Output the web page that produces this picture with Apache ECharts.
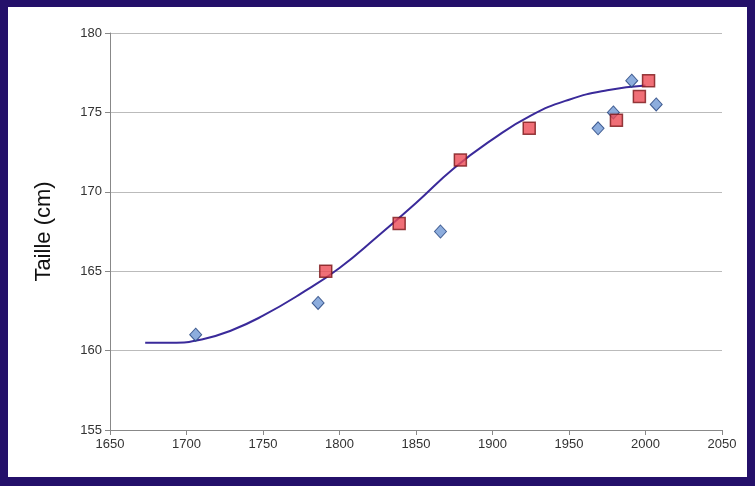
<!DOCTYPE html>
<html>
<head>
<meta charset="utf-8">
<script src="https://cdn.jsdelivr.net/npm/echarts@6/dist/echarts.min.js"></script>
<style>
  html, body { margin: 0; padding: 0; }
  #chart { width: 755px; height: 486px; background: #24106a; }
</style>
</head>
<body>
<div id="chart"></div>
<script>
// losanges bleus
var blueYears = [1706, 1786, 1866, 1969, 1979, 1991, 2007]
var blueHeights = [161, 163, 167.5, 174, 175, 177, 175.5]
// carres rouges
var redYears = [1791, 1839, 1879, 1924, 1981, 1996, 2002]
var redHeights = [165, 168, 172, 174, 174.5, 176, 177]
// courbe de tendance
var curveYears = [1673, 1690, 1710, 1730, 1750, 1775, 1800, 1825, 1850, 1875, 1900, 1925, 1950, 1975, 2000]
var curveHeights = [160.5, 160.5, 160.7, 161.3, 162.2, 163.6, 165.2, 167.2, 169.3, 171.5, 173.3, 174.8, 175.8, 176.4, 176.7]

function pairs(xs, ys) {
  return xs.map(function (x, i) { return [x, ys[i]] })
}

var myChart = echarts.init(document.getElementById('chart'))
var axisText = { fontSize: 13, color: '#333', fontFamily: 'Liberation Sans', formatter: function (v) { return String(v) } }

myChart.setOption({
  animation: false,
  graphic: [{
    type: 'rect', left: 8, top: 7, z: -10,
    shape: { width: 739, height: 470 },
    style: { fill: '#ffffff' }
  }],
  grid: { left: 110, right: 33, top: 33, bottom: 56 },
  xAxis: {
    type: 'value', min: 1650, max: 2050, interval: 50,
    axisLine: { lineStyle: { color: '#888' } },
    axisTick: { show: true, lineStyle: { color: '#888' } },
    axisLabel: axisText,
    splitLine: { show: false }
  },
  yAxis: {
    type: 'value', min: 155, max: 180, interval: 5,
    name: 'Taille (cm)', nameLocation: 'middle', nameGap: 55,
    nameTextStyle: { fontSize: 22, color: '#111', fontFamily: 'Liberation Sans' },
    axisLine: { show: true, lineStyle: { color: '#888' } },
    axisTick: { show: true, lineStyle: { color: '#888' } },
    axisLabel: axisText,
    splitLine: { lineStyle: { color: '#bbb' } }
  },
  series: [{
    type: 'line', data: pairs(curveYears, curveHeights), smooth: true,
    showSymbol: false, lineStyle: { color: '#3a2a9a', width: 2 }, z: 1
  }, {
    type: 'scatter', data: pairs(blueYears, blueHeights), symbol: 'diamond', symbolSize: [12, 13],
    itemStyle: { color: '#7198d4', borderColor: '#1f3f7a', borderWidth: 1 }, z: 2
  }, {
    type: 'scatter', data: pairs(redYears, redHeights), symbol: 'rect', symbolSize: 12,
    itemStyle: { color: '#ec4b55', borderColor: '#7a1518', borderWidth: 1.5 }, z: 3
  }]
})
</script>
</body>
</html>
